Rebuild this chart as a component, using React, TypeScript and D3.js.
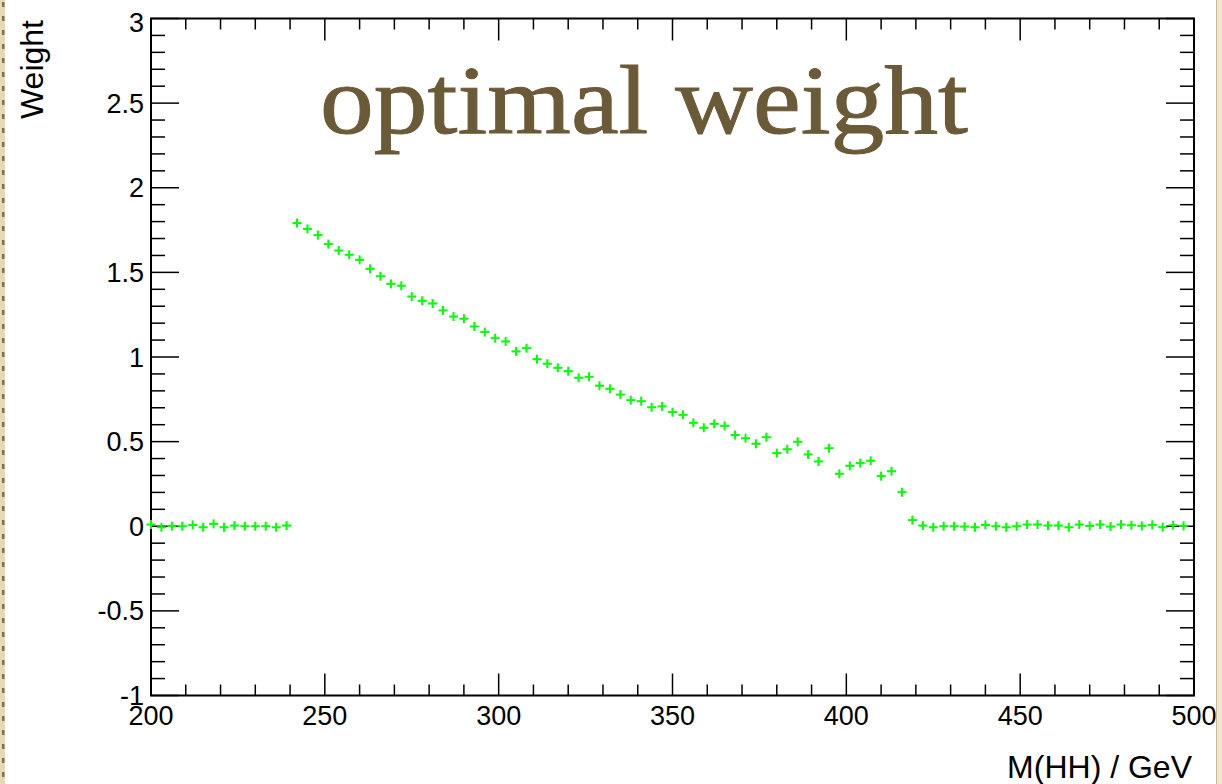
import React from 'react';
import * as d3 from 'd3';

// histogram bins of M(HH), 3 GeV wide, point drawn at the low edge
const massBins: number[] = d3.range(200, 500, 3);

const weights: number[] = [
    0.010, -0.006, 0.0, 0.0, 0.008, -0.006, 0.014, -0.006, 0.004, 0.0, 0.0, 0.0, -0.006, 0.004,
    1.791, 1.757, 1.72, 1.667, 1.629, 1.604, 1.574, 1.521, 1.477, 1.432, 1.421, 1.357, 1.332, 1.316,
    1.275, 1.239, 1.226, 1.18, 1.147, 1.111,
    1.092, 1.033, 1.052, 0.987, 0.96, 0.936, 0.916, 0.877, 0.883, 0.83, 0.812, 0.778, 0.745, 0.739,
    0.703, 0.708, 0.674, 0.658, 0.611, 0.582, 0.605, 0.593, 0.539,
    0.52, 0.487, 0.526, 0.432, 0.455, 0.499, 0.424, 0.383, 0.461, 0.31, 0.357, 0.373, 0.387, 0.296,
    0.325, 0.201, 0.036,
    0.004, -0.006, 0.0, 0.0, -0.002, -0.006, 0.008, 0.0, -0.006, 0.0, 0.01, 0.01, 0.004, 0.004,
    -0.006, 0.01, 0.002, 0.01, -0.002, 0.01, 0.006, 0.002, 0.008, -0.006, 0.006, 0.002,
];

const xTickLabels: number[] = [200, 250, 300, 350, 400, 450, 500];
const yTickLabels: number[] = [-1, -0.5, 0, 0.5, 1, 1.5, 2, 2.5, 3];

const width = 1222;
const height = 784;
const frame = { left: 151, right: 1194, top: 18.5, bottom: 695.5 };

const x = d3.scaleLinear().domain([200, 500]).range([frame.left, frame.right]);
const y = d3.scaleLinear().domain([-1, 3]).range([frame.bottom, frame.top]);

const sans = '"Liberation Sans", Arial, Helvetica, sans-serif';

const App = () => {
    const xMinor = d3.range(200, 501, 10);
    const yMinor = d3.range(-10, 31).map(d => d / 10);
    const dots = d3.range(0, height, 14);

    return (
        <svg
            width={width}
            height={height}
            style={{ position: 'absolute', left: 0, top: 0, background: '#fff' }}
        >
            {/* slide border */}
            <rect x={0} y={0} width={5} height={height} fill="#e6d9b9" />
            {dots.map(d => (
                <rect key={d} x={2} y={d + 2} width={2.5} height={5} fill="#85704a" />
            ))}
            <rect x={1216} y={0} width={6} height={height} fill="#f1e7cf" />
            <line x1={1216.5} x2={1216.5} y1={0} y2={height} stroke="#cdb98f" strokeWidth={1} />

            {/* minor / major ticks on all four sides */}
            <g stroke="#000" strokeWidth={1.5}>
                {xMinor.map(v => {
                    const len = v % 50 === 0 ? 22 : 11;
                    return (
                        <g key={'x' + v}>
                            <line x1={x(v)} x2={x(v)} y1={frame.bottom} y2={frame.bottom - len} />
                            <line x1={x(v)} x2={x(v)} y1={frame.top} y2={frame.top + len} />
                        </g>
                    );
                })}
                {yMinor.map(v => {
                    const major = Math.abs(v * 2 - Math.round(v * 2)) < 1e-6;
                    const len = major ? 28 : 14;
                    return (
                        <g key={'y' + v}>
                            <line x1={frame.left} x2={frame.left + len} y1={y(v)} y2={y(v)} />
                            <line x1={frame.right} x2={frame.right - len} y1={y(v)} y2={y(v)} />
                        </g>
                    );
                })}
            </g>

            <rect
                x={frame.left}
                y={frame.top}
                width={frame.right - frame.left}
                height={frame.bottom - frame.top}
                fill="none"
                stroke="#000"
                strokeWidth={2}
            />

            {/* tick labels */}
            <g fontFamily={sans} fontSize={27} fill="#000">
                {xTickLabels.map(v => (
                    <text key={v} x={x(v)} y={725} textAnchor="middle">{v}</text>
                ))}
                {yTickLabels.map(v => (
                    <text key={v} x={144} y={y(v) + (v === 3 ? 13 : 9.5)} textAnchor="end">{v}</text>
                ))}
            </g>

            {/* axis titles */}
            <text
                transform="translate(43,20) rotate(-90)"
                textAnchor="end"
                fontFamily={sans}
                fontSize={32}
            >
                Weight
            </text>
            <text x={1192} y={778} textAnchor="end" fontFamily={sans} fontSize={32}>
                M(HH) / GeV
            </text>

            {/* data points */}
            <g stroke="#00ff00" strokeWidth={2}>
                {weights.map((w, i) => {
                    const cx = x(massBins[i]);
                    const cy = y(w);
                    return (
                        <g key={i}>
                            <line x1={cx - 4.5} x2={cx + 4.5} y1={cy} y2={cy} />
                            <line x1={cx} x2={cx} y1={cy - 4.5} y2={cy + 4.5} />
                        </g>
                    );
                })}
            </g>

            {/* title */}
            <text
                x={320}
                y={133}
                fontFamily='"Liberation Serif", "DejaVu Serif", serif'
                fontSize={98}
                fill="#6b5a37"
                stroke="#6b5a37"
                strokeWidth={1}
                textLength={648}
                lengthAdjust="spacingAndGlyphs"
            >
                optimal weight
            </text>
        </svg>
    );
};

export default App;
